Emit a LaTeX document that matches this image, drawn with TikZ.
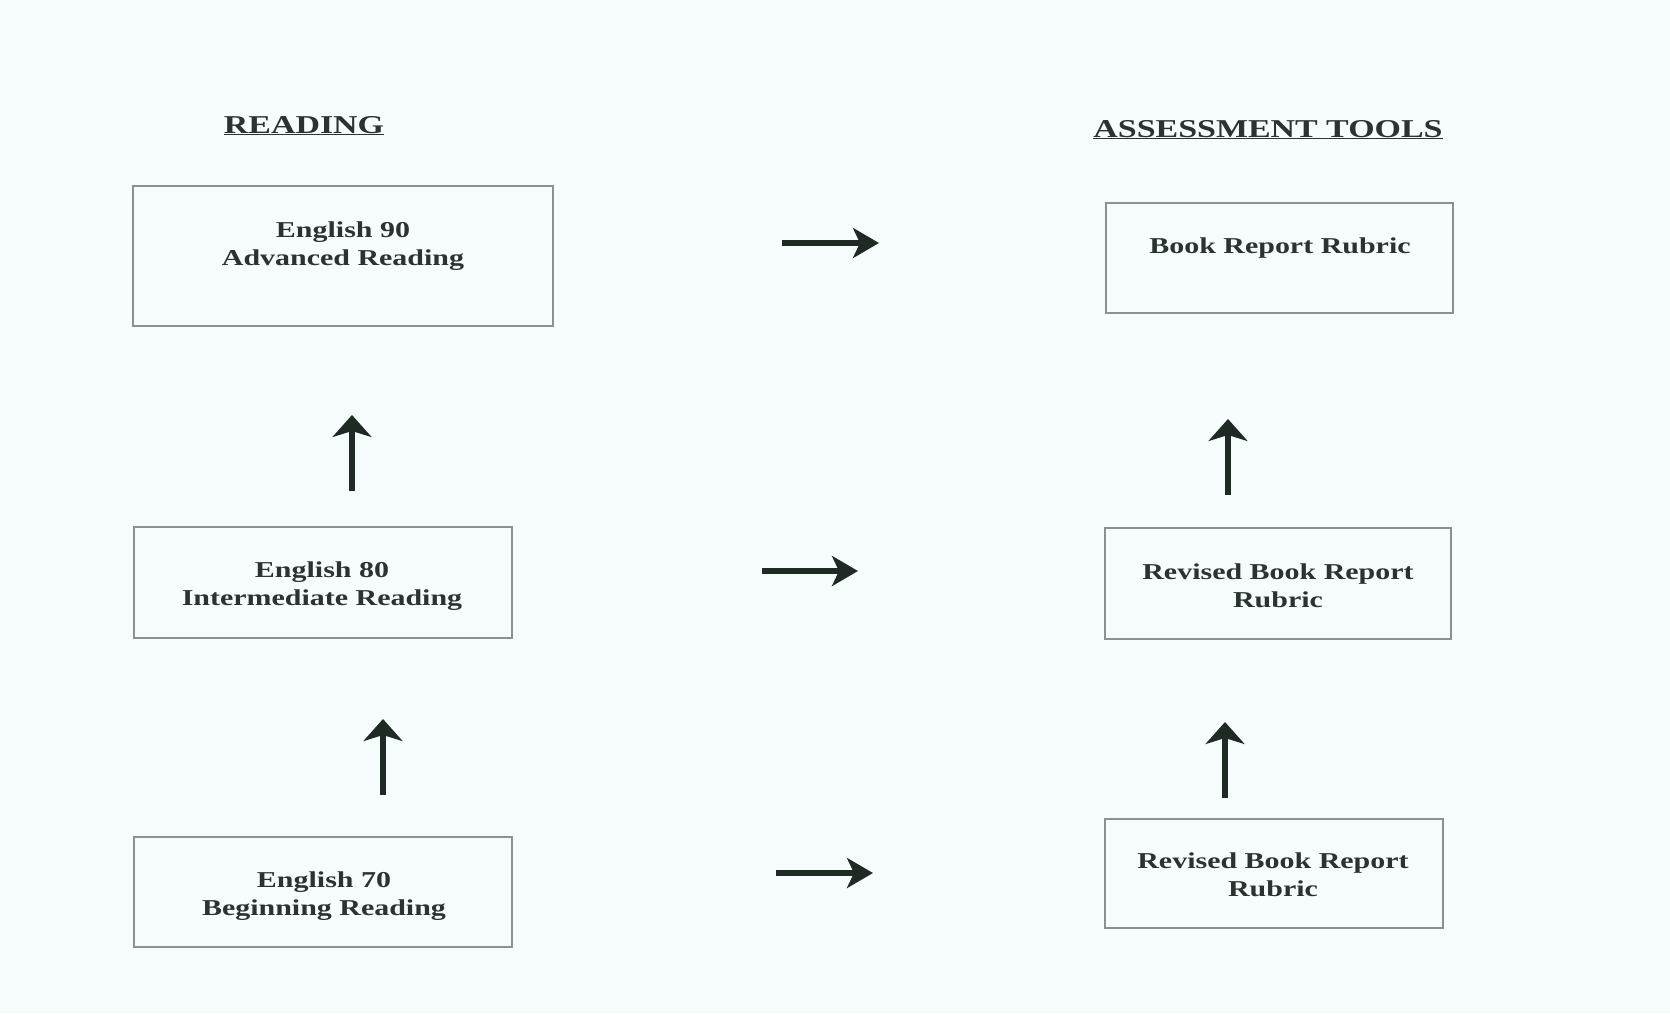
\documentclass[tikz,border=0pt]{standalone}
\usepackage{fontspec}
\setmainfont{Liberation Serif}
\newfontfamily\wideserif[FakeStretch=1.32]{Liberation Serif}
\usetikzlibrary{arrows.meta}
\definecolor{bgc}{HTML}{F6FBFB}
\definecolor{txtc}{HTML}{2A3330}
\definecolor{arrc}{HTML}{1F2A25}
\definecolor{boxc}{HTML}{8C9090}
\tikzset{
  stepbox/.style={draw=boxc, line width=1.5pt, inner sep=0pt, fill=none},
  boxtext/.style={text=txtc, align=center, inner sep=0pt, text height=16pt, text depth=5pt,
    font=\wideserif\bfseries\fontsize{22.7pt}{28.5pt}\selectfont},
  headtext/.style={text=txtc, inner sep=0pt, anchor=base,
    font=\wideserif\bfseries\fontsize{25.7pt}{30pt}\selectfont},
  harr/.style={draw=arrc, line width=5.5pt, -{Stealth[length=26pt,width=30pt,inset=7pt]}},
  varr/.style={draw=arrc, line width=5.5pt, -{Stealth[length=22pt,width=39pt,inset=6pt]}}
}
\begin{document}
\begin{tikzpicture}[x=1pt,y=-1pt]
\fill[bgc] (0,0) rectangle (1670,1013);
\useasboundingbox (0,0) rectangle (1670,1013);

% headings
\node[headtext] (h1) at (304,133) {\underline{READING}};
\node[headtext] (h2) at (1268,137) {\underline{ASSESSMENT TOOLS}};

% left boxes
\node[stepbox, minimum width=420pt, minimum height=140pt] (b1) at (343,256) {};
\node[stepbox, minimum width=378pt, minimum height=111pt] (b2) at (323,582.5) {};
\node[stepbox, minimum width=378pt, minimum height=110pt] (b3) at (323,892) {};
\node[boxtext] (t1) at (343,260) {English 90\\Advanced Reading};
\node[boxtext] (t2) at (322,600) {English 80\\Intermediate Reading};
\node[boxtext] (t3) at (324,910) {English 70\\Beginning Reading};

% right boxes
\node[stepbox, minimum width=347pt, minimum height=110pt] (r1) at (1279.5,258) {};
\node[stepbox, minimum width=346pt, minimum height=111pt] (r2) at (1278,583.5) {};
\node[stepbox, minimum width=338pt, minimum height=109pt] (r3) at (1274,873.5) {};
\node[boxtext] (u1) at (1280,247.5) {Book Report Rubric};
\node[boxtext] (u2) at (1278,602) {Revised Book Report\\Rubric};
\node[boxtext] (u3) at (1273,891) {Revised Book Report\\Rubric};

% arrow end points
\coordinate (h1s) at (782,243);  \coordinate (h1e) at (879,243);
\coordinate (h2s) at (762,571);  \coordinate (h2e) at (858,571);
\coordinate (h3s) at (776,873);  \coordinate (h3e) at (873,873);
\coordinate (v1s) at (352,491);  \coordinate (v1e) at (352,415);
\coordinate (v2s) at (383,795);  \coordinate (v2e) at (383,719);
\coordinate (v3s) at (1228,495); \coordinate (v3e) at (1228,419);
\coordinate (v4s) at (1225,798); \coordinate (v4e) at (1225,722);

\draw[harr] (h1s) -- (h1e);
\draw[harr] (h2s) -- (h2e);
\draw[harr] (h3s) -- (h3e);
\draw[varr] (v1s) -- (v1e);
\draw[varr] (v2s) -- (v2e);
\draw[varr] (v3s) -- (v3e);
\draw[varr] (v4s) -- (v4e);
\end{tikzpicture}
\end{document}
